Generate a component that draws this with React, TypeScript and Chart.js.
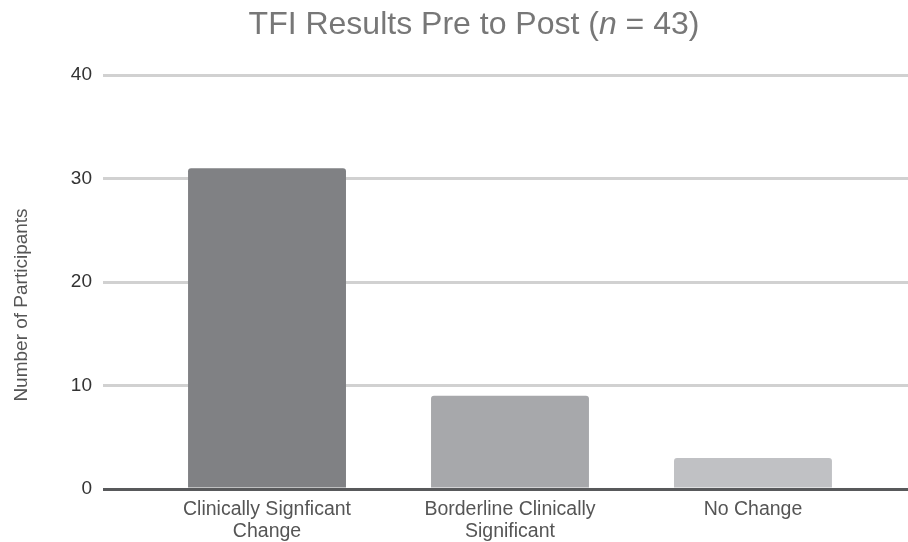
import { useEffect, useRef } from "react";
import { Chart, registerables } from "chart.js";

Chart.register(...registerables);

const FONT = '"Liberation Sans", Arial, Helvetica, sans-serif';

const categories: string[][] = [
  ["Clinically Signficant", "Change"],
  ["Borderline Clinically", "Significant"],
  ["No Change"],
];
const participants = [31, 9, 3];
const barColors = ["#808184", "#a7a8ab", "#c0c1c4"];
const yTicks = [0, 10, 20, 30, 40];
const titleParts = [
  { text: "TFI Results Pre to Post (", italic: false },
  { text: "n", italic: true },
  { text: " = 43)", italic: false },
];
const yTitle = "Number of Participants";

const textPlugin = {
  id: "customText",
  afterDraw(chart: any) {
    const ctx = chart.ctx as CanvasRenderingContext2D;
    ctx.save();
    const size = 32;
    const fonts = titleParts.map((p) => `${p.italic ? "italic " : ""}${size}px ${FONT}`);
    let total = 0;
    const widths = titleParts.map((p, i) => {
      ctx.font = fonts[i];
      const w = ctx.measureText(p.text).width;
      total += w;
      return w;
    });
    let x = 474 - total / 2;
    ctx.fillStyle = "#777777";
    ctx.textAlign = "left";
    ctx.textBaseline = "alphabetic";
    titleParts.forEach((p, i) => {
      ctx.font = fonts[i];
      ctx.fillText(p.text, x, 34);
      x += widths[i];
    });
    ctx.restore();

    ctx.save();
    ctx.translate(27, 305);
    ctx.rotate(-Math.PI / 2);
    ctx.font = `19px ${FONT}`;
    ctx.textAlign = "center";
    ctx.textBaseline = "alphabetic";
    ctx.fillStyle = "#555555";
    ctx.fillText(yTitle, 0, 0);
    ctx.restore();
  },
};

export default function App() {
  const ref = useRef<HTMLCanvasElement>(null);
  useEffect(() => {
    if (!ref.current) return;
    const chart = new Chart(ref.current, {
      type: "bar",
      data: {
        datasets: [
          {
            data: participants.map((v, i) => ({ x: i, y: v })),
            backgroundColor: barColors,
            borderRadius: 3,
            borderSkipped: "start",
            categoryPercentage: 1,
            barPercentage: 0.65,
          } as any,
        ],
      },
      options: {
        animation: false,
        responsive: false,
        maintainAspectRatio: false,
        layout: { padding: { top: 75, left: 0, right: 0, bottom: 0 } },
        plugins: {
          legend: { display: false },
          title: { display: false },
          tooltip: { enabled: false },
        },
        scales: {
          x: {
            type: "linear",
            min: -0.675,
            max: 2.638,
            offset: false,
            grid: { display: false, drawTicks: false, offset: false },
            border: { display: false },
            afterBuildTicks: (s: any) => {
              s.ticks = categories.map((_, i) => ({ value: i }));
            },
            afterFit: (s: any) => {
              s.height = 53;
            },
            ticks: {
              callback: (v: any) => categories[v as number] ?? "",
              padding: 10,
              font: { size: 19.5, family: FONT, lineHeight: 1.13 },
              color: "#555555",
              maxRotation: 0,
              autoSkip: false,
            },
          },
          y: {
            min: 0,
            max: 40,
            afterBuildTicks: (s: any) => {
              s.ticks = yTicks.map((v) => ({ value: v }));
            },
            afterFit: (s: any) => {
              s.width = 103;
            },
            grid: {
              color: (c: any) => (c.tick && c.tick.value === 0 ? "#58595b" : "#d1d1d1"),
              lineWidth: 3,
              drawTicks: false,
            },
            border: { display: false },
            ticks: {
              padding: 11,
              font: { size: 19, family: FONT },
              color: "#333333",
            },
          },
        },
      } as any,
      plugins: [textPlugin],
    });
    return () => chart.destroy();
  }, []);
  return (
    <div style={{ position: "absolute", left: 0, top: 0, width: 908, height: 542, background: "#fff" }}>
      <canvas ref={ref} width={908} height={542} style={{ display: "block", width: 908, height: 542 }} />
    </div>
  );
}
